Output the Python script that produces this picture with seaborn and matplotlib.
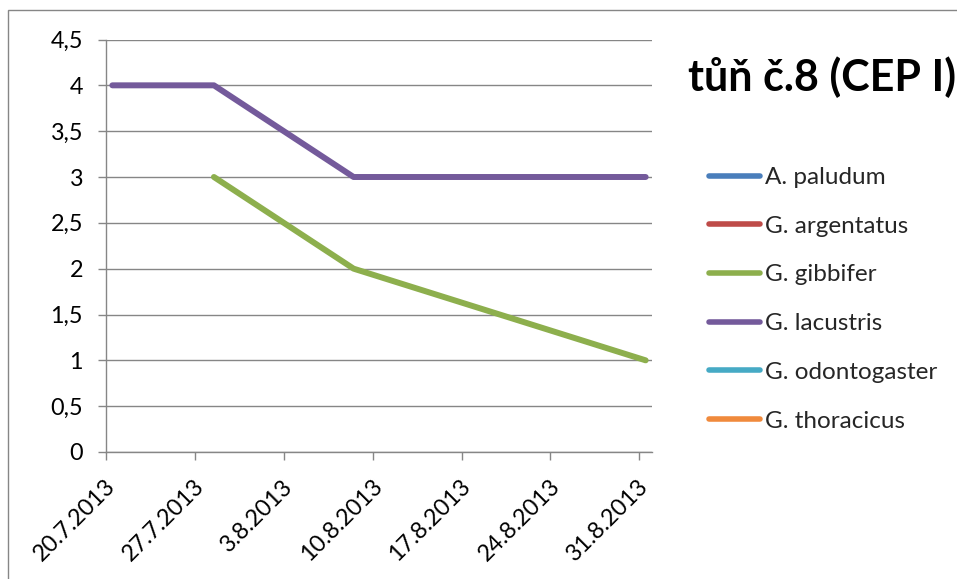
import matplotlib
matplotlib.use("Agg")
import matplotlib.pyplot as plt
from matplotlib.lines import Line2D
from matplotlib.patches import Rectangle
from matplotlib.ticker import FuncFormatter
from matplotlib.transforms import ScaledTranslation
import pandas as pd
import seaborn as sns

# Species shown in the legend, with their line colours
species = ["A. paludum", "G. argentatus", "G. gibbifer",
           "G. lacustris", "G. odontogaster", "G. thoracicus"]
colors = ["#4A7EBB", "#BE4B48", "#8DAF4D", "#745A9B", "#46AAC5", "#F08A3C"]

# Observed counts per sampling date
lacustris_dates = ["20.7.2013", "28.7.2013", "8.8.2013", "31.8.2013"]
lacustris_counts = [4, 4, 3, 3]
gibbifer_dates = ["28.7.2013", "8.8.2013", "31.8.2013"]
gibbifer_counts = [3, 2, 1]

tick_labels = ["20.7.2013", "27.7.2013", "3.8.2013", "10.8.2013",
               "17.8.2013", "24.8.2013", "31.8.2013"]
y_ticks = [0, 0.5, 1, 1.5, 2, 2.5, 3, 3.5, 4, 4.5]
axis_start, axis_end = "20.7.2013", "1.9.2013"
title = "tůň č.8 (CEP I)"

DATE_FMT = "%d.%m.%Y"

frames = []
for name, dates, counts in [("G. lacustris", lacustris_dates, lacustris_counts),
                            ("G. gibbifer", gibbifer_dates, gibbifer_counts)]:
    frames.append(pd.DataFrame({"species": name,
                                "date": pd.to_datetime(dates, format=DATE_FMT),
                                "count": counts}))
df = pd.concat(frames, ignore_index=True)
# each day is a category slot; points sit in the middle of their day
df["date"] = df["date"] + pd.Timedelta(hours=12)

sns.set_theme(style="white")
plt.rcParams["font.family"] = ["Lato", "DejaVu Sans"]

W, H = 957, 579
fig = plt.figure(figsize=(W / 100, H / 100), dpi=100)
left, right, top, bottom = 106, 652, 39.5, 452
ax = fig.add_axes([left / W, 1 - bottom / H, (right - left) / W, (bottom - top) / H])

grey = "#868686"
palette = dict(zip(species, colors))

sns.lineplot(data=df, x="date", y="count", hue="species", hue_order=species,
             palette=palette, linewidth=4.3, legend=False, ax=ax,
             solid_capstyle="round", solid_joinstyle="round", zorder=3)

ax.set_xlim(pd.to_datetime(axis_start, format=DATE_FMT),
            pd.to_datetime(axis_end, format=DATE_FMT))
ax.set_ylim(y_ticks[0], y_ticks[-1])
ax.set_yticks(y_ticks)
ax.yaxis.set_major_formatter(FuncFormatter(lambda v, p: f"{v:g}".replace(".", ",")))
ax.set_xticks(pd.to_datetime(tick_labels, format=DATE_FMT))
ax.set_xticklabels(tick_labels, rotation=45, ha="right", va="center",
                   rotation_mode="anchor")
ax.set_xlabel("")
ax.set_ylabel("")

ax.grid(axis="y", color=grey, linewidth=1.0)
ax.grid(axis="x", visible=False)
for s in ["top", "right"]:
    ax.spines[s].set_visible(False)
for s in ["left", "bottom"]:
    ax.spines[s].set_color(grey)
    ax.spines[s].set_linewidth(1.0)

ax.tick_params(axis="y", which="major", left=True, length=6, width=1.0,
               color=grey, pad=10.5, labelsize=16.8, labelcolor="black")
ax.tick_params(axis="x", which="major", bottom=True, length=6, width=1.0,
               color=grey, pad=16.5, labelsize=16.8, labelcolor="black")
# nudge the slanted date labels slightly right of their ticks
shift = ScaledTranslation(0.06, 0, fig.dpi_scale_trans)
for lab in ax.get_xticklabels():
    lab.set_transform(lab.get_transform() + shift)

handles = [Line2D([0], [0], color=c, linewidth=4.0, solid_capstyle="round")
           for c in colors]
ax.legend(handles, species, loc="upper left",
          bbox_to_anchor=(709 / W, 1 - 167 / H), bbox_transform=fig.transFigure,
          frameon=False, fontsize=17.5, handlelength=2.1, handletextpad=0.22,
          labelspacing=1.14, borderpad=0, borderaxespad=0)

fig.text(688 / W, 1 - 91 / H, title, fontsize=31, fontweight="bold",
         ha="left", va="baseline", color="black")

# outer chart frame
fig.add_artist(Rectangle((8 / W, -0.2), 1.5, 1.2 - 10 / H,
                         transform=fig.transFigure, fill=False,
                         edgecolor=grey, linewidth=1.0))

fig.savefig("out.png", dpi=100)
